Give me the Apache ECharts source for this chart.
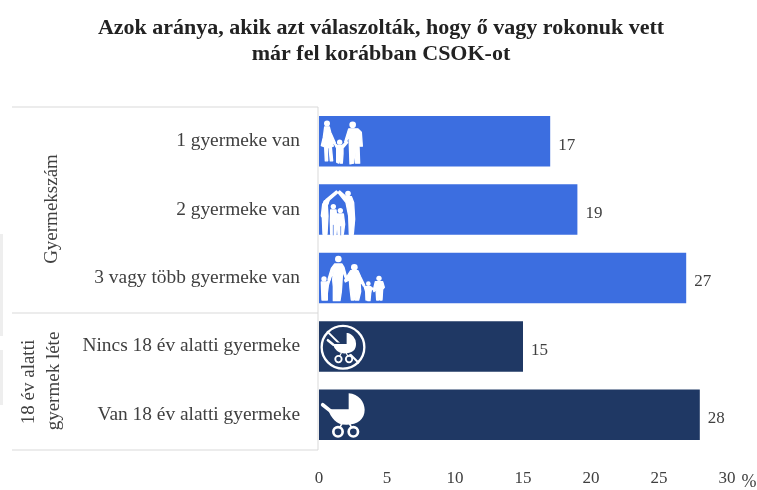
<!DOCTYPE html>
<html><head><meta charset="utf-8">
<style>html,body{margin:0;padding:0;background:#fff}#c{width:757px;height:490px}</style>
<script src="https://cdn.jsdelivr.net/npm/echarts@6/dist/echarts.min.js"></script>
</head><body><div id="c"></div>
<script>
const categories = ['1 gyermeke van','2 gyermeke van','3 vagy több gyermeke van','Nincs 18 év alatti gyermeke','Van 18 év alatti gyermeke'];
const values = [17,19,27,15,28];
const groupOf = [0,0,0,1,1];
const tickLabels = [0,5,10,15,20,25,30];
const title = 'Azok aránya, akik azt válaszolták, hogy ő vagy rokonuk vett\nmár fel korábban CSOK-ot';
const BLUE='#3C6EE0', NAVY='#1F3864', W='#fff', TXT='#404040', LINE='#d9d9d9';
const FONT='"Liberation Serif", Georgia, serif';
const groupColors=[BLUE,NAVY];

const head=(cx,cy,r)=>({type:'circle',shape:{cx,cy,r:r+1.5},style:{fill:W}});
const pts=s=>s.trim().split(/\s+/).map(p=>p.split(',').map(Number));
const body=s=>({type:'polygon',shape:{points:pts(s)},style:{fill:W,stroke:W,lineWidth:4,lineJoin:'round'}});
const ln=(x1,y1,x2,y2,w,c)=>({type:'line',shape:{x1,y1,x2,y2},style:{stroke:c||W,lineWidth:w,lineCap:'round',fill:null}});

function pram(bg,outline){
  return [
    {type:'path',shape:{pathData:'M30 70 L92 70 L92 22 C122 24 140 48 140 72 C140 100 120 117 85 117 C55 117 38 95 30 70 Z',x:30,y:22,width:110,height:95},
     style:outline?{fill:W,stroke:bg,lineWidth:7}:{fill:W}},
    ln(14,57,38,76,11),
    ln(72,113,66,124,5), ln(94,113,100,124,5),
    {type:'circle',shape:{cx:60,cy:138,r:14},style:{fill:bg,stroke:W,lineWidth:8}},
    {type:'circle',shape:{cx:106,cy:138,r:14},style:{fill:bg,stroke:W,lineWidth:8}}
  ];
}
const icons=[
 {dy:-29,c:[
  head(27,34,7.5),
  body('20,44 34,44 38,60 52,92 48,94 40,78 46,102 40,104 44,146 37,146 33,106 28,106 29,146 22,146 20,104 10,100 16,75 18,60'),
  head(65,90,6.5),
  body('48,92 58,100 72,100 86,88 89,91 75,108 75,125 73,153 67,153 65,130 62,153 56,150 56,108'),
  head(104,38,8.5),
  body('92,50 120,50 130,60 133,102 126,102 124,72 123,100 125,153 113,153 110,105 107,153 96,155 94,100 93,70 84,92 80,89')
 ]},
 {dy:-27,c:[
  head(24,60,7),
  body('55,25 60,30 34,52 28,68 30,100 27,155 15,155 13,105 10,100 14,65 25,50'),
  head(90,33,7),
  body('60,30 65,25 84,42 100,42 107,60 110,110 106,155 94,155 92,100 84,60'),
  head(46,72,6.5),
  body('38,82 54,82 57,115 54,155 38,155 37,115'),
  head(67,84,6.5),
  body('58,94 76,94 80,125 76,155 60,155 58,125'),
  ln(46,128,46,157,2,BLUE), ln(68,132,68,157,2,BLUE)
 ]},
 {dy:-28,c:[
  head(18,87,6.5),
  body('10,96 28,96 35,84 37,86 31,106 28,130 28,150 12,150 11,125'),
  head(61,27,8.5),
  body('50,42 72,42 78,52 86,82 82,84 74,62 72,95 70,125 66,152 58,152 60,110 56,152 46,152 46,110 44,90 46,62 36,90 30,88 40,55'),
  head(109,52,8.5),
  body('98,62 120,62 128,80 140,105 136,108 126,92 128,125 122,150 112,150 110,130 108,150 100,150 96,115 94,90 82,96 80,90'),
  head(151,101,5.5),
  body('145,110 158,110 166,116 160,120 158,130 156,152 150,152 148,150 144,150 143,125 138,108'),
  head(183,85,6.5),
  body('172,95 194,95 199,112 194,118 192,150 186,150 184,130 182,150 176,150 174,118 168,125 166,120')
 ]},
 {dy:-28.5,c:[
  ln(29,42,121,134,6),
  {type:'group',x:20,y:27,scaleX:.69,scaleY:.7,children:pram(NAVY,true)},
  {type:'circle',shape:{cx:75,cy:88,r:64},style:{fill:null,stroke:W,lineWidth:7}}
 ]},
 {dy:-29,c:pram(NAVY,false)}
];

const chart=echarts.init(document.getElementById('c'),null,{renderer:'canvas'});
const GL=319,GT=107,GH=342;
chart.setOption({
  animation:false,
  backgroundColor:'#fff',
  title:{text:title,left:376,top:10,textAlign:'center',
    textStyle:{fontFamily:FONT,fontSize:22,fontWeight:'bold',color:'#222',lineHeight:26}},
  grid:{left:GL,right:30,top:GT,height:GH,outerBoundsMode:'none'},
  xAxis:{type:'value',min:0,max:30,interval:5,
    axisLine:{show:false},axisTick:{show:false},splitLine:{show:false},
    axisLabel:{margin:21,color:TXT,fontFamily:FONT,fontSize:17,
      formatter:v=>tickLabels.includes(v)?String(v):''},
    name:'%',nameLocation:'end',nameGap:5,
    nameTextStyle:{color:TXT,fontFamily:FONT,fontSize:18,verticalAlign:'top',padding:[24,0,0,0]}},
  yAxis:{type:'category',inverse:true,data:categories,
    axisLine:{show:false},axisTick:{show:false},splitLine:{show:false},
    axisLabel:{margin:19,color:TXT,fontFamily:FONT,fontSize:19.4,align:'right'}},
  series:[
   {type:'bar',barWidth:50.5,
    data:values.map((v,i)=>({value:v,itemStyle:{color:groupColors[groupOf[i]]}})),
    label:{show:true,position:'right',distance:8,offset:[0,4],color:TXT,fontFamily:FONT,fontSize:17}},
   {type:'custom',z:5,clip:false,silent:true,
    data:categories.map((c,i)=>[0,i]),
    encode:{x:0,y:1},
    renderItem(p,api){
      const i=api.value(1), pos=api.coord([0,i]), ic=icons[i];
      return {type:'group',x:pos[0]-1,y:pos[1]+ic.dy,scaleX:1/3,scaleY:1/3,children:ic.c};
    }}
  ],
  graphic:[
   {type:'line',shape:{x1:12,y1:107,x2:318,y2:107},style:{stroke:LINE,lineWidth:1}},
   {type:'line',shape:{x1:12,y1:313,x2:318,y2:313},style:{stroke:LINE,lineWidth:1}},
   {type:'line',shape:{x1:12,y1:450,x2:318,y2:450},style:{stroke:LINE,lineWidth:1}},
   {type:'line',shape:{x1:318,y1:107,x2:318,y2:450},style:{stroke:LINE,lineWidth:1}},
   {type:'rect',shape:{x:0,y:234,width:3,height:102},style:{fill:'#eeeeee'}},
   {type:'rect',shape:{x:0,y:350,width:3,height:55},style:{fill:'#eeeeee'}},
   {type:'text',x:52,y:209,rotation:Math.PI/2,style:{text:'Gyermekszám',fill:TXT,font:'19px '+FONT,textAlign:'center',textVerticalAlign:'middle'}},
   {type:'text',x:29,y:382,rotation:Math.PI/2,style:{text:'18 év alatti',fill:TXT,font:'19px '+FONT,textAlign:'center',textVerticalAlign:'middle'}},
   {type:'text',x:54,y:381,rotation:Math.PI/2,style:{text:'gyermek léte',fill:TXT,font:'19px '+FONT,textAlign:'center',textVerticalAlign:'middle'}}
  ]
});
</script></body></html>
